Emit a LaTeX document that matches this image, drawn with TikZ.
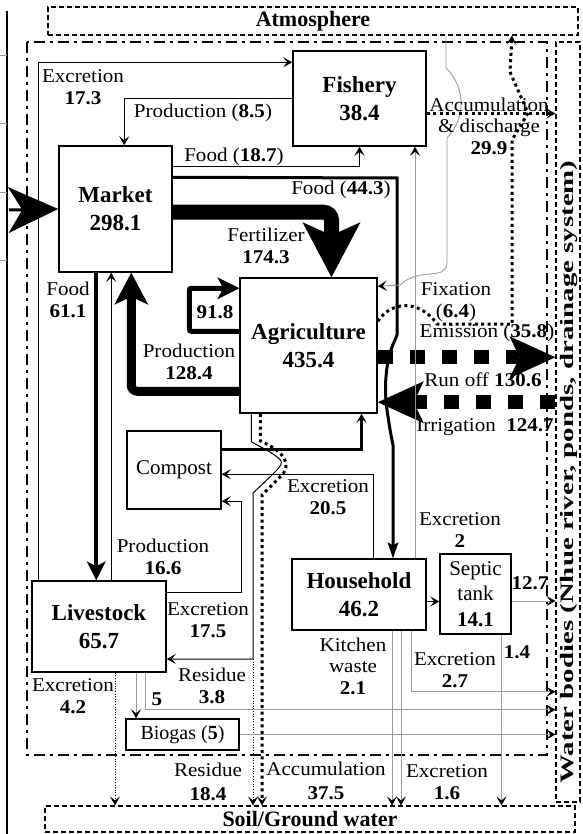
\documentclass[tikz,border=0pt]{standalone}
\usepackage{fontspec}
\setmainfont{Liberation Serif}
\newfontfamily\lblfam{Liberation Serif}[FakeStretch=1.08]
\usetikzlibrary{arrows.meta,calc}

\newcommand{\lblfont}{\lblfam\fontsize{19.5}{21.5}\selectfont}
\newcommand{\boxfont}{\fontsize{23}{28}\selectfont\bfseries}
\newcommand{\extfont}{\fontsize{22}{24}\selectfont\bfseries}

\begin{document}
\begin{tikzpicture}[
  x=1pt, y=-1pt,
  >=Stealth,
  box/.style={draw, line width=1.5pt, align=center, inner sep=2pt, font=\boxfont},
  ext/.style={draw, line width=1.1pt, dash pattern=on 5pt off 3pt, inner sep=0pt, font=\extfont},
  lbl/.style={font=\lblfont, align=center, inner sep=0pt},
  tip/.style={-{Stealth[length=9pt,width=10pt,inset=4pt,color=black]}},
  arr/.style={tip, line width=1pt},
  garr/.style={tip, line width=0.9pt, draw=black!40},
  bound/.style={line width=2.6pt, dash pattern=on 11pt off 5pt on 3pt off 5pt},
  dots/.style={line width=3pt, dash pattern=on 3pt off 3.4pt},
  sdots/.style={line width=1pt, dash pattern=on 1pt off 1.6pt},
  bigdots/.style={line width=14pt, dash pattern=on 15pt off 17pt,
    -{Stealth[length=46pt,width=42pt,inset=10pt,line width=0pt]}},
]
  \useasboundingbox (0,0) rectangle (582,834);

  % ===== page edge =====
  \draw[line width=1.5pt] (7,11) -- (7,834);
  \foreach \yy in {55,123,192,260} \draw[black!40, line width=0.6pt] (0,\yy) -- (7,\yy);

  % ===== surroundings =====
  \node[ext, minimum width=530pt, minimum height=28pt] (atm) at (313,21) {Atmosphere};
  \node[ext, minimum width=530pt, minimum height=26pt] (soil) at (310,819) {Soil/Ground water};
  \node[ext, minimum width=24pt, minimum height=760pt] (water) at (568,422) {};
  \node[font=\fontsize{19}{21}\selectfont\bfseries, rotate=90] (wtxt) at (568.5,472)
    {\scalebox{1.52}[1]{Water bodies (Nhue river, ponds, drainage system)}};
  \draw[bound] (27,42) rectangle (547,755);

  % ===== compartments =====
  \node[box, minimum width=133pt, minimum height=95pt] (fish) at (359.5,98.5) {Fishery\\38.4};
  \node[box, minimum width=113pt, minimum height=126pt] (mkt) at (115.5,209) {Market\\298.1};
  \node[box, minimum width=137pt, minimum height=135pt] (agri) at (308.5,345.5) {Agriculture\\435.4};
  \node[box, minimum width=94pt, minimum height=78pt, font=\fontsize{21}{24}\selectfont] (comp) at (174,470) {Compost};
  \node[box, minimum width=134pt, minimum height=91pt] (live) at (99,626.5) {Livestock\\65.7};
  \node[box, minimum width=113pt, minimum height=31pt, font=\fontsize{20}{22}\selectfont] (bio) at (182.5,734.5)
    {Biogas (\textbf{5})};
  \node[box, minimum width=134pt, minimum height=71pt] (house) at (359,594.5) {Household\\46.2};
  \node[box, minimum width=71pt, minimum height=80pt, font=\fontsize{21}{25.5}\selectfont] (septic) at (475.5,594)
    {Septic\\tank\\\textbf{14.1}};

  % ===== market =====
  \coordinate (inflow) at (9,210);
  \draw[line width=3pt, -{Stealth[length=50pt,width=46pt,inset=14pt,line width=0pt]}] (inflow) -- (mkt.west);
  \draw[arr] ([yshift=-21pt]mkt.north east) -| (fish.south);
  \draw[line width=3pt, -{Stealth[length=16pt,width=11pt,inset=3pt,line width=0pt]}]
    ([yshift=-32pt]mkt.north east) -- (397,178) -- (397,335) -- (395,340)
    .. controls (385,360) and (384,390) .. (387,410)
    .. controls (390,430) .. (393,445) -- ([xshift=34pt]house.north);
  \draw[line width=15pt, rounded corners=8pt, -{Stealth[length=55pt,width=58pt,inset=13pt,line width=0pt]}]
    ([yshift=-67pt]mkt.north east) -| ([xshift=23pt]agri.north);
  \draw[line width=4pt, -{Stealth[length=19pt,width=19pt,inset=5pt,line width=0pt]}]
    ([xshift=38pt]mkt.south west) -- ([xshift=65pt]live.north west);

  % ===== agriculture =====
  \draw[line width=9pt, rounded corners=6pt, -{Stealth[length=32pt,width=34pt,inset=8pt,line width=0pt]}]
    ([yshift=-114pt]agri.north west) -| ([xshift=73pt]mkt.south west);
  \draw[line width=5pt, rounded corners=2pt, -{Stealth[length=22pt,width=22pt,inset=6pt,line width=0pt]}]
    ([yshift=-54pt]agri.north west) -- ++(-50,0) |- ([yshift=-11pt]agri.north west);
  \draw[arr] ([xshift=12pt]agri.south west) -- ++(0,28) -- (270,452)
    .. controls (285,462) .. (271,476) -- (253,493) -- (253,659) coordinate (rc)
    -- (rc -| live.east);
  \draw[sdots, tip] (rc) -- (rc |- soil.north);
  \draw[dots, tip] ([xshift=21pt]agri.south west) -- ++(0,27)
    .. controls (285,452) and (293,465) .. (280,477) -- (262,495) -- ([xshift=-48pt]soil.north);
  \draw[dots, tip] ([yshift=-44pt]agri.north east) .. controls (392,300) and (420,300) .. (437,324)
    -- (512,324) -- (512,140) -- (528,113) -- (510,72) -- ([xshift=199pt]atm.south);
  \draw[bigdots] ([yshift=-80pt]agri.north east) coordinate (ro) -- (ro -| water.west);
  \coordinate (irr) at ([yshift=-125pt]agri.north east);
  \draw[bigdots] (irr -| water.west) -- (irr);
  \draw[garr] ([xshift=133pt]atm.south) -- (446,68) .. controls (466,88) and (466,118) .. (447,138)
    -- (447,262) .. controls (447,282) and (420,266) .. (400,285) -- ([yshift=-9pt]agri.north east);

  % ===== fishery =====
  \draw[arr] ([xshift=7pt]live.north west) |- ([yshift=-12pt]fish.north west);
  \draw[arr] ([yshift=-48pt]fish.north west) -| ([xshift=66pt]mkt.north west);
  \draw[dots, tip] ([yshift=-15pt]fish.east) coordinate (fd) -- (fd -| water.west);

  % ===== compost, livestock =====
  \draw[arr, line width=2.5pt] ([yshift=-19pt]comp.north east) -| ([xshift=53pt]agri.south);
  \draw[arr] ([xshift=14pt]house.north) |- ([yshift=-44pt]comp.north east);
  \draw[arr] ([xshift=80pt]live.north west) -- ([xshift=53pt]mkt.south west);
  \draw[arr] ([yshift=-12pt]live.north east) -- ++(75,0) |- ([yshift=-71pt]comp.north east);
  \draw[garr] ([xshift=37pt]live.south) coordinate (lb) -- (lb |- bio.north);
  \draw[garr] ([xshift=46pt]live.south) -- ++(0,37) coordinate (lw) -- (lw -| water.west);
  \draw[sdots, tip] ([xshift=16pt]live.south) coordinate (ls) -- (ls |- soil.north);
  \draw[garr] (bio.east) -- (bio.east -| water.west);

  % ===== household, septic tank =====
  \draw[garr] ([xshift=56pt]house.north) coordinate (hf) -- (hf |- fish.south);
  \draw[arr] ([yshift=-7pt]house.east) coordinate (hs) -- (hs -| septic.west);
  \draw[garr] ([yshift=-7pt]septic.east) coordinate (sw) -- (sw -| water.west);
  \draw[garr] ([xshift=26pt]septic.south) coordinate (ss) -- (ss |- soil.north);
  \draw[garr] ([xshift=33pt]house.south) coordinate (hk) -- (hk |- soil.north);
  \draw[garr] ([xshift=42pt]house.south) coordinate (he) -- (he |- soil.north);
  \draw[garr] ([xshift=52pt]house.south) -- ++(0,61) coordinate (hw) -- (hw -| water.west);

  % ===== labels =====
  \node[lbl] (l173) at (83,87) {Excretion\\\textbf{17.3}};
  \node[lbl] (l85) at (203,113) {Production (\textbf{8.5})};
  \node[lbl] (l187) at (234,157) {Food (\textbf{18.7})};
  \node[lbl] (l443) at (341,190) {Food (\textbf{44.3})};
  \node[lbl] (l1743) at (266,246) {Fertilizer\\\textbf{174.3}};
  \node[lbl] (l918) at (215,312) {\textbf{91.8}};
  \node[lbl] (l611) at (68,300) {Food\\\textbf{61.1}};
  \node[lbl] (l1284) at (189,362) {Production\\\textbf{128.4}};
  \node[lbl] (l64) at (456,302) {Fixation\\(\textbf{6.4})};
  \node[lbl] (l358) at (487,333) {Emission (\textbf{35.8})};
  \node[lbl] (l1306) at (483,380) {Run off \textbf{130.6}};
  \node[lbl] (l1247) at (485,427) {Irrigation~~\textbf{124.7}};
  \node[lbl] (l299) at (489,126) {Accumulation\\\& discharge\\\textbf{29.9}};
  \node[lbl] (l205) at (328,497) {Excretion\\\textbf{20.5}};
  \node[lbl] (l166) at (163,557) {Production\\\textbf{16.6}};
  \node[lbl] (l175) at (208,620) {Excretion\\\textbf{17.5}};
  \node[lbl] (l38) at (212,686) {Residue\\\textbf{3.8}};
  \node[lbl] (l42) at (73,696) {Excretion\\\textbf{4.2}};
  \node[lbl] (l5) at (157,699) {\textbf{5}};
  \node[lbl] (l184) at (208,782) {Residue\\[3pt]\textbf{18.4}};
  \node[lbl] (l375) at (326,781) {Accumulation\\[3pt]\textbf{37.5}};
  \node[lbl] (l21) at (353,666) {Kitchen\\waste\\\textbf{2.1}};
  \node[lbl] (l27) at (455,670) {Excretion\\\textbf{2.7}};
  \node[lbl] (l14) at (517,652) {\textbf{1.4}};
  \node[lbl] (l16) at (447,782) {Excretion\\\textbf{1.6}};
  \node[lbl] (l127) at (530,583) {\textbf{12.7}};
  \node[lbl] (l2) at (460,530) {Excretion\\\textbf{2}};
\end{tikzpicture}
\end{document}
